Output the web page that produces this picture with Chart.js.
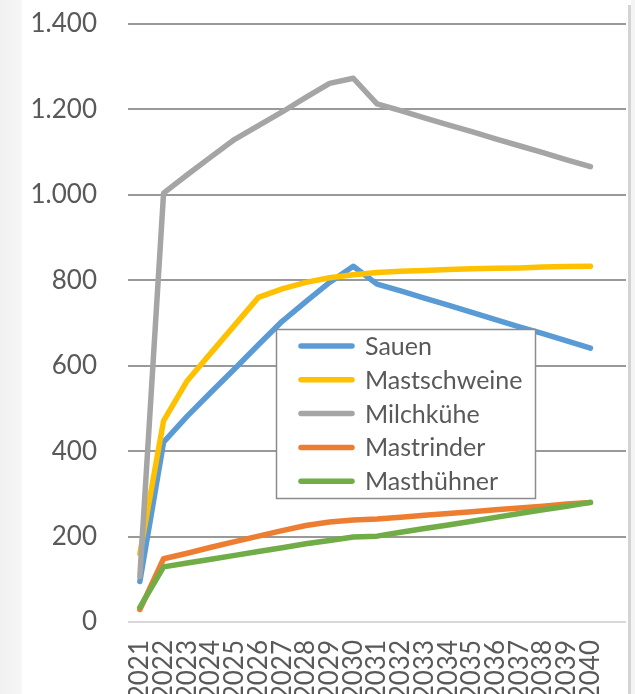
<!DOCTYPE html>
<html>
<head>
<meta charset="utf-8">
<script src="https://cdn.jsdelivr.net/npm/chart.js@4/dist/chart.umd.min.js"></script>
<style>
  html, body { margin: 0; padding: 0; background: #ffffff; }
  #wrap { position: relative; width: 635px; height: 694px; overflow: hidden; background: #ffffff; }
  #leftStrip { position: absolute; left: 0; top: 0; width: 22px; height: 694px; background: linear-gradient(to right, #f1f1f1, #f6f6f6); }
  #rightFrame { position: absolute; left: 628px; top: 5px; width: 3px; height: 689px; background: #d4d4d4; }
  #rightStrip { position: absolute; left: 631px; top: 0; width: 4px; height: 694px; background: #f4f4f4; }
  canvas { position: absolute; left: 0; top: 0; }
</style>
</head>
<body>
<div id="wrap">
  <div id="leftStrip"></div>
  <div id="rightFrame"></div>
  <div id="rightStrip"></div>
  <canvas id="c" width="635" height="694"></canvas>
</div>
<script>
const years = ['2021','2022','2023','2024','2025','2026','2027','2028','2029','2030',
               '2031','2032','2033','2034','2035','2036','2037','2038','2039','2040'];
const extraSlot = [''];
const seriesNames = ['Sauen', 'Mastschweine', 'Milchkühe', 'Mastrinder', 'Masthühner'];
const sauen        = [95, 421, 482, 538, 593, 649, 704, 750, 795, 833, 791, 775, 758, 742, 725, 708, 691, 675, 658, 641];
const mastschweine = [160, 471, 565, 630, 695, 760, 780, 795, 806, 813, 818, 821, 823, 825, 827, 828, 829, 831, 832, 833];
const milchkuehe   = [107, 1004, 1047, 1089, 1130, 1162, 1194, 1228, 1261, 1273, 1213, 1197, 1180, 1164, 1148, 1131, 1115, 1099, 1082, 1066];
const mastrinder   = [29, 148, 161, 175, 188, 201, 214, 226, 234, 239, 241, 245, 250, 254, 258, 263, 267, 271, 276, 280];
const masthuehner  = [34, 129, 138, 147, 156, 165, 174, 183, 191, 199, 201, 210, 219, 227, 236, 245, 254, 263, 271, 280];
const yTicks = [0, 200, 400, 600, 800, 1000, 1200, 1400];

const colors = ['#5B9BD5', '#FFC000', '#A5A5A5', '#ED7D31', '#70AD47'];
const values = [sauen, mastschweine, milchkuehe, mastrinder, masthuehner];
const textColor = '#595959';
const fontFamily = 'Lato, "Open Sans", sans-serif';

function deFormat(v) {
  return String(v).replace(/\B(?=(\d{3})+(?!\d))/g, '.');
}

const legendPlugin = {
  id: 'insideLegend',
  afterDatasetsDraw(chart) {
    const ctx = chart.ctx;
    const bx = 276.5, by = 329.5, bw = 259, bh = 169;
    ctx.save();
    ctx.fillStyle = '#ffffff';
    ctx.fillRect(bx, by, bw, bh);
    ctx.strokeStyle = '#8c8c8c';
    ctx.lineWidth = 1.5;
    ctx.strokeRect(bx, by, bw, bh);
    ctx.font = '25px ' + fontFamily;
    ctx.textBaseline = 'middle';
    ctx.textAlign = 'left';
    chart.data.datasets.forEach((ds, i) => {
      const cy = 346 + i * 33.8;
      ctx.strokeStyle = ds.borderColor;
      ctx.lineWidth = 5.5;
      ctx.lineCap = 'round';
      ctx.beginPath();
      ctx.moveTo(301, cy);
      ctx.lineTo(352, cy);
      ctx.stroke();
      ctx.fillStyle = textColor;
      ctx.fillText(ds.label, 365, cy + 1);
    });
    ctx.restore();
  }
};

const datasets = seriesNames.map((name, i) => ({
  label: name,
  data: values[i],
  borderColor: colors[i],
  backgroundColor: colors[i],
  borderWidth: 5.5,
  borderCapStyle: 'round',
  borderJoinStyle: 'round',
  pointRadius: 0,
  pointHoverRadius: 0,
  tension: 0,
  fill: false,
  order: seriesNames.length - 1 - i,
  clip: 6
}));

new Chart(document.getElementById('c'), {
  type: 'line',
  data: { labels: years.concat(extraSlot), datasets },
  options: {
    responsive: false,
    animation: false,
    events: [],
    layout: { padding: { left: 0, right: 9, top: 24, bottom: 0 } },
    plugins: { legend: { display: false }, tooltip: { enabled: false } },
    scales: {
      x: {
        type: 'category',
        offset: true,
        grid: { display: false, drawTicks: false },
        border: { display: false },
        ticks: {
          autoSkip: false,
          minRotation: 90,
          maxRotation: 90,
          padding: 18,
          color: textColor,
          font: { family: fontFamily, size: 26 }
        },
        afterFit(scale) {
          scale.height = 72;
          scale.paddingLeft = 0; scale.paddingRight = 0;
          scale.paddingTop = 0; scale.paddingBottom = 0;
        }
      },
      y: {
        min: 0,
        max: 1400,
        afterBuildTicks(scale) { scale.ticks = yTicks.map(v => ({ value: v })); },
        grid: {
          drawTicks: false,
          lineWidth: 2,
          color: (c) => (c.tick && c.tick.value === 0) ? '#d9d9d9' : '#999999'
        },
        border: { display: false },
        ticks: {
          padding: 31,
          color: textColor,
          font: { family: fontFamily, size: 26 },
          callback: (v) => deFormat(v)
        },
        afterFit(scale) {
          scale.width = 128;
          scale.paddingLeft = 0; scale.paddingRight = 0;
          scale.paddingTop = 0; scale.paddingBottom = 0;
        }
      }
    }
  },
  plugins: [legendPlugin]
});
</script>
</body>
</html>
